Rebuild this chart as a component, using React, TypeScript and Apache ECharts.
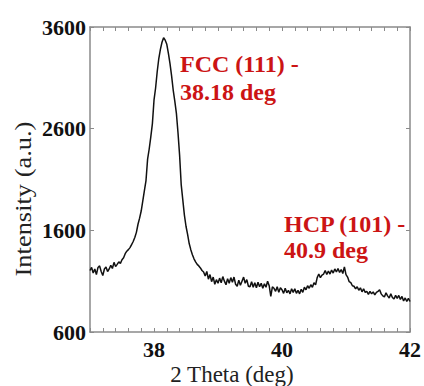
import React, { useEffect, useRef } from "react";
import * as echarts from "echarts";

const twoTheta = [
  37.0, 37.025, 37.05, 37.075, 37.1, 37.125, 37.15, 37.175,
  37.2, 37.225, 37.25, 37.275, 37.3, 37.325, 37.35, 37.375,
  37.4, 37.425, 37.45, 37.475, 37.5, 37.525, 37.55, 37.575,
  37.6, 37.625, 37.65, 37.675, 37.7, 37.725, 37.75, 37.775,
  37.8, 37.825, 37.85, 37.875, 37.9, 37.925, 37.95, 37.975,
  38.0, 38.025, 38.05, 38.075, 38.1, 38.125, 38.15, 38.175,
  38.2, 38.225, 38.25, 38.275, 38.3, 38.325, 38.35, 38.375,
  38.4, 38.425, 38.45, 38.475, 38.5, 38.525, 38.55, 38.575,
  38.6, 38.625, 38.65, 38.675, 38.7, 38.725, 38.75, 38.775,
  38.8, 38.825, 38.85, 38.875, 38.9, 38.925, 38.95, 38.975,
  39.0, 39.025, 39.05, 39.075, 39.1, 39.125, 39.15, 39.175,
  39.2, 39.225, 39.25, 39.275, 39.3, 39.325, 39.35, 39.375,
  39.4, 39.425, 39.45, 39.475, 39.5, 39.525, 39.55, 39.575,
  39.6, 39.625, 39.65, 39.675, 39.7, 39.725, 39.75, 39.775,
  39.8, 39.825, 39.85, 39.875, 39.9, 39.925, 39.95, 39.975,
  40.0, 40.025, 40.05, 40.075, 40.1, 40.125, 40.15, 40.175,
  40.2, 40.225, 40.25, 40.275, 40.3, 40.325, 40.35, 40.375,
  40.4, 40.425, 40.45, 40.475, 40.5, 40.525, 40.55, 40.575,
  40.6, 40.625, 40.65, 40.675, 40.7, 40.725, 40.75, 40.775,
  40.8, 40.825, 40.85, 40.875, 40.9, 40.925, 40.95, 40.975,
  41.0, 41.025, 41.05, 41.075, 41.1, 41.125, 41.15, 41.175,
  41.2, 41.225, 41.25, 41.275, 41.3, 41.325, 41.35, 41.375,
  41.4, 41.425, 41.45, 41.475, 41.5, 41.525, 41.55, 41.575,
  41.6, 41.625, 41.65, 41.675, 41.7, 41.725, 41.75, 41.775,
  41.8, 41.825, 41.85, 41.875, 41.9, 41.925, 41.95, 41.975,
  42.0,
];

const intensity = [
  1205, 1235, 1180, 1220, 1165, 1235, 1250, 1195,
  1155, 1220, 1240, 1195, 1220, 1255, 1225, 1285,
  1245, 1265, 1290, 1275, 1310, 1330, 1370, 1395,
  1410, 1430, 1460, 1490, 1530, 1580, 1660, 1720,
  1790, 1890, 1990, 2090, 2300, 2400, 2520, 2650,
  2880, 3000, 3160, 3290, 3380, 3450, 3495, 3470,
  3430, 3340, 3240, 3120, 2980, 2870, 2750, 2560,
  2340, 2050, 1900, 1750, 1640, 1560, 1470, 1410,
  1360, 1320, 1290, 1265, 1250, 1230, 1205, 1190,
  1150, 1195, 1120, 1165, 1095, 1140, 1070, 1115,
  1080, 1130, 1085, 1145, 1100, 1065, 1125, 1080,
  1135, 1090, 1140, 1070, 1050, 1110, 1060, 1100,
  1140, 1080, 1115, 1050, 1045, 1095, 1040, 1085,
  1035, 1090, 1045, 1080, 1030, 1075, 1040, 1100,
  1055, 950, 1045, 1030, 1000, 1045, 990, 1035,
  1015, 980, 1030, 985, 1010, 975, 1025, 990,
  1025, 980, 1010, 975, 1020, 990, 1040, 1015,
  1055, 1030, 1065, 1040, 1085, 1065, 1135, 1170,
  1135, 1160, 1170, 1205, 1165, 1200, 1170, 1210,
  1180, 1220, 1190, 1225, 1185, 1215, 1175, 1240,
  1165, 1140, 1095, 1085, 1055, 1050, 1025, 1045,
  1010, 1035, 995, 1025, 990, 1000, 970, 1000,
  975, 995, 965, 990, 1000, 1015, 975, 955,
  945, 985, 955, 935, 975, 940, 925, 960,
  930, 960, 920, 950, 905, 935, 900, 930,
  900,
];

const yTickValues = [600, 1600, 2600, 3600];
const xLabelValues = [38, 40, 42];

const serif = "Liberation Serif";
const red = "#cc1414";
const axisGrey = "#8a8a8a";

export default function App() {
  const ref = useRef<HTMLDivElement>(null);

  useEffect(() => {
    if (!ref.current) return;
    const chart = echarts.init(ref.current, null, { renderer: "svg" });
    const data = twoTheta.map((t, i) => [t, intensity[i]]);

    const xBase = {
      type: "value",
      min: 37,
      max: 42,
      interval: 1,
      axisLine: { show: true, lineStyle: { color: axisGrey, width: 1.5 } },
      axisTick: { show: true, inside: true, length: 4, lineStyle: { color: axisGrey } },
      minorTick: { show: true, splitNumber: 5, length: 4, lineStyle: { color: axisGrey } },
      splitLine: { show: false },
      minorSplitLine: { show: false },
    };
    const yBase = {
      type: "value",
      min: 600,
      max: 3600,
      axisLine: { show: true, lineStyle: { color: axisGrey, width: 1.5 } },
      axisTick: {
        show: true,
        inside: true,
        length: 4,
        customValues: yTickValues,
        lineStyle: { color: axisGrey },
      },
      splitLine: { show: false },
    };

    chart.setOption({
      animation: false,
      backgroundColor: "#ffffff",
      grid: { left: 90, right: 13, top: 27, bottom: 54 },
      xAxis: [
        {
          ...xBase,
          position: "bottom",
          axisLabel: {
            show: true,
            customValues: xLabelValues,
            formatter: (v: number) => String(v),
            fontFamily: serif,
            fontWeight: "bold",
            fontSize: 22,
            color: "#111",
            margin: 6,
          },
        },
        {
          ...xBase,
          position: "top",
          axisLabel: { show: false },
        },
      ],
      yAxis: [
        {
          ...yBase,
          position: "left",
          axisLabel: {
            show: true,
            customValues: yTickValues,
            formatter: (v: number) => String(v),
            fontFamily: serif,
            fontWeight: "bold",
            fontSize: 22,
            color: "#111",
            margin: 4,
          },
        },
        {
          ...yBase,
          position: "right",
          axisLabel: { show: false },
        },
      ],
      series: [
        {
          type: "line",
          data,
          xAxisIndex: 0,
          yAxisIndex: 0,
          showSymbol: false,
          symbol: "none",
          lineStyle: { color: "#111", width: 1.5 },
        },
      ],
      graphic: [
        {
          type: "text",
          x: 232,
          y: 374,
          style: {
            text: "2 Theta (deg)",
            fontFamily: serif,
            fontSize: 23,
            fill: "#222",
            align: "center",
            verticalAlign: "middle",
          },
        },
        {
          type: "text",
          x: 23,
          y: 199,
          rotation: Math.PI / 2,
          scaleX: 1.15,
          style: {
            text: "Intensity (a.u.)",
            fontFamily: serif,
            fontSize: 23,
            fill: "#222",
            align: "center",
            verticalAlign: "middle",
          },
        },
        {
          type: "text",
          x: 180,
          y: 50,
          style: {
            text: "FCC (111) -\n38.18 deg",
            fontFamily: serif,
            fontWeight: "bold",
            fontSize: 24,
            lineHeight: 28,
            fill: red,
            align: "left",
            verticalAlign: "top",
          },
        },
        {
          type: "text",
          x: 284,
          y: 211,
          style: {
            text: "HCP (101) -\n40.9 deg",
            fontFamily: serif,
            fontWeight: "bold",
            fontSize: 24,
            lineHeight: 26,
            fill: red,
            align: "left",
            verticalAlign: "top",
          },
        },
      ],
    });

    return () => chart.dispose();
  }, []);

  return (
    <div
      ref={ref}
      style={{ position: "fixed", left: 0, top: 0, width: 424, height: 386 }}
    />
  );
}
